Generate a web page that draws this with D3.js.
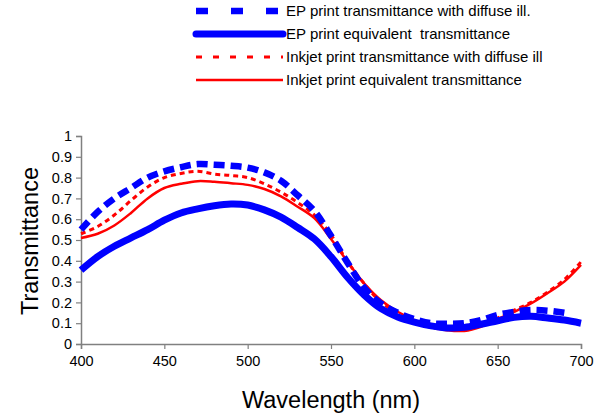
<!DOCTYPE html>
<html><head><meta charset="utf-8">
<script src="https://cdn.jsdelivr.net/npm/d3@7"></script>
<style>body{margin:0;background:#fff}svg{display:block}text{font-family:"Liberation Sans",Arial,sans-serif;fill:#000;white-space:pre}</style>
</head><body><svg id="c" width="603" height="414"></svg>
<script>
const wavelengths = [400,410,420,430,440,450,460,470,480,490,500,510,520,530,540,550,560,570,580,590,600,610,620,630,640,650,660,670,680,690,700];
const epDiffuse   = [0.55,0.635,0.70,0.75,0.80,0.83,0.85,0.865,0.862,0.857,0.848,0.825,0.785,0.715,0.64,0.52,0.39,0.27,0.195,0.15,0.12,0.10,0.097,0.10,0.115,0.14,0.155,0.163,0.16,0.15,null];
const epEquiv     = [0.355,0.42,0.47,0.51,0.55,0.595,0.63,0.65,0.665,0.673,0.668,0.645,0.61,0.56,0.505,0.42,0.32,0.235,0.17,0.13,0.105,0.087,0.077,0.08,0.095,0.112,0.128,0.133,0.125,0.115,0.10];
const inkDiffuse  = [0.53,0.565,0.62,0.69,0.755,0.80,0.82,0.83,0.817,0.81,0.80,0.77,0.73,0.68,0.62,0.525,0.395,0.29,0.20,0.15,0.105,0.08,0.068,0.07,0.09,0.125,0.163,0.20,0.25,0.31,0.395];
const inkEquiv    = [0.51,0.53,0.57,0.63,0.70,0.75,0.77,0.783,0.78,0.773,0.765,0.745,0.71,0.66,0.605,0.505,0.395,0.29,0.21,0.155,0.115,0.083,0.066,0.063,0.083,0.12,0.155,0.195,0.245,0.30,0.38];
const seriesNames = ["EP print transmittance with diffuse ill.","EP print equivalent  transmittance","Inkjet print transmittance with diffuse ill","Inkjet print equivalent transmittance"];
const xTicks = [400,450,500,550,600,650,700];
const yTicks = [0,0.1,0.2,0.3,0.4,0.5,0.6,0.7,0.8,0.9,1];

const svg = d3.select("#c");
const x = d3.scaleLinear().domain([400,700]).range([81,581]);
const y = d3.scaleLinear().domain([0,1]).range([344,136]);

const styles = [
  {color:"#0000ff", w:6.5, dash:"11,6", ldash:"12,23"},
  {color:"#0000ff", w:7, dash:null, ldash:null, cap:"round"},
  {color:"#ff0000", w:3, dash:"5,4", ldash:"6,11"},
  {color:"#ff0000", w:2.5, dash:null, ldash:null}
];
const data = [epDiffuse, epEquiv, inkDiffuse, inkEquiv];

// axes
const xAxis = svg.append("g").attr("transform","translate(0,344)")
  .call(d3.axisBottom(x).tickValues(xTicks).tickSize(5).tickPadding(7).tickFormat(d3.format("d")));
const yAxis = svg.append("g").attr("transform","translate(81,0)")
  .call(d3.axisLeft(y).tickValues(yTicks).tickSize(5).tickPadding(4).tickFormat(d=>String(+d.toFixed(1))));
[xAxis,yAxis].forEach(a=>{
  a.select(".domain").attr("stroke","#808080").attr("stroke-width",1.5);
  a.selectAll(".tick line").attr("stroke","#808080").attr("stroke-width",1.2);
  a.selectAll(".tick text").attr("font-size",14.5).attr("fill","#000").attr("font-family","'Liberation Sans',Arial,sans-serif");
});

// lines
[3,2,1,0].forEach(i=>{
  const pts = wavelengths.map((w,j)=>[w,data[i][j]]).filter(p=>p[1]!=null);
  const line = d3.line().x(p=>x(p[0])).y(p=>y(p[1])).curve(d3.curveCatmullRom);
  const p = svg.append("path").attr("d",line(pts)).attr("fill","none")
    .attr("stroke",styles[i].color).attr("stroke-width",styles[i].w);
  if(styles[i].dash) p.attr("stroke-dasharray",styles[i].dash);
});

// axis titles
svg.append("text").attr("x",331).attr("y",408).attr("text-anchor","middle").attr("font-size",23.5).text("Wavelength (nm)");
svg.append("text").attr("transform","translate(38,241) rotate(-90)").attr("text-anchor","middle").attr("font-size",23.5).text("Transmittance");

// legend
const ly = [11,34,57,80];
seriesNames.forEach((n,i)=>{
  const s = styles[i];
  const l = svg.append("line").attr("x1",196).attr("x2",283).attr("y1",ly[i]).attr("y2",ly[i])
    .attr("stroke",s.color).attr("stroke-width",s.w);
  if(s.ldash) l.attr("stroke-dasharray",s.ldash);
  if(s.cap) l.attr("stroke-linecap","round");
  svg.append("text").attr("x",286).attr("y",ly[i]).attr("dy","0.35em").attr("font-size",15).text(n);
});
</script></body></html>
